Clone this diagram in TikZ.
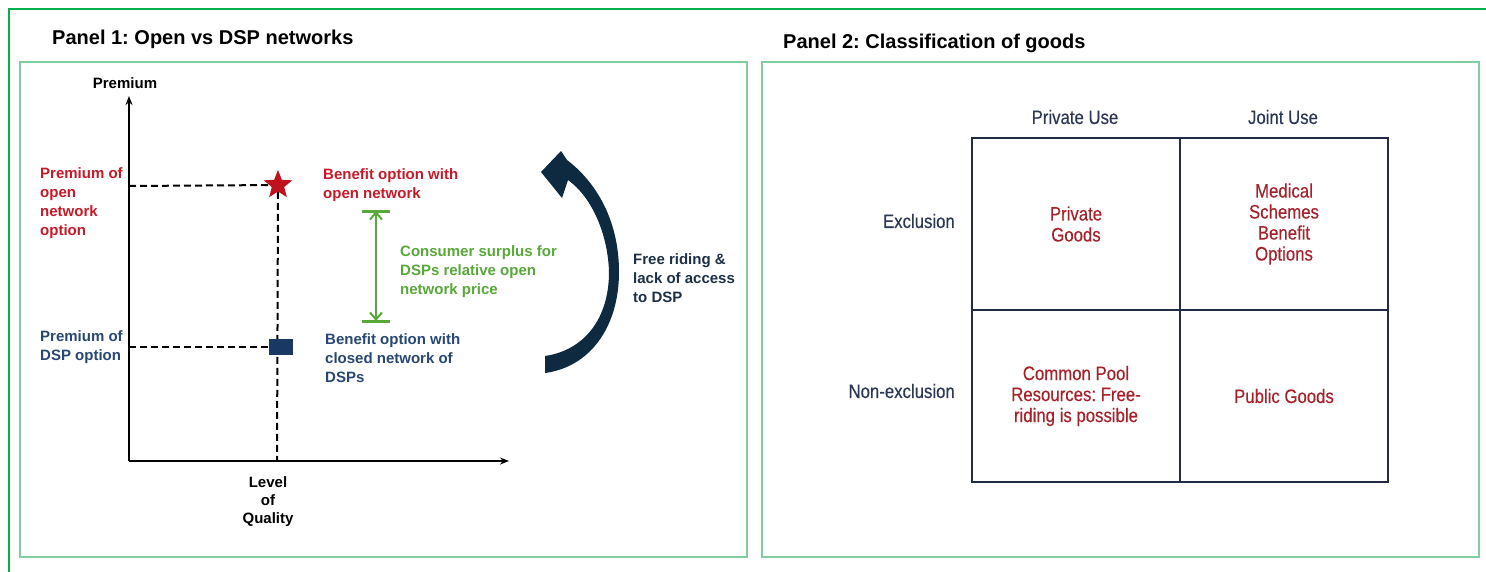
\documentclass[tikz,border=0pt]{standalone}
\usepackage{fontspec}
\setmainfont{Liberation Sans}
\newfontfamily\condfont[FakeStretch=0.86,FakeBold=0.3]{Liberation Sans}
\usetikzlibrary{arrows.meta,shapes.geometric}
\frenchspacing

\definecolor{framegreen}{RGB}{0,176,80}
\definecolor{panelgreen}{RGB}{128,206,160}
\definecolor{optred}{RGB}{200,25,40}
\definecolor{starred}{RGB}{190,18,30}
\definecolor{dspblue}{RGB}{40,72,115}
\definecolor{sqblue}{RGB}{26,56,100}
\definecolor{surplusgreen}{RGB}{88,168,58}
\definecolor{arrownavy}{RGB}{14,42,64}
\definecolor{slatetext}{RGB}{30,48,70}
\definecolor{headnavy}{RGB}{44,56,84}
\definecolor{cellred}{RGB}{165,34,43}
\definecolor{gridnavy}{RGB}{34,44,68}

\begin{document}
\begin{tikzpicture}[x=1pt,y=-1pt,
  panel/.style={draw=panelgreen,line width=1.6pt,fill=white},
  title/.style={font=\fontsize{20}{24}\selectfont\bfseries,anchor=base west,inner sep=0pt},
  % multi-line labels are placed by the baseline of their last line
  lbl/.style={font=\fontsize{15}{19}\selectfont\bfseries,align=left,anchor=base west,inner sep=0pt},
  axis/.style={line width=2pt,-{Stealth[length=9pt,width=7pt]}},
  guide/.style={line width=2pt,dash pattern=on 7pt off 4pt},
  gtext/.style={font=\condfont\fontsize{19.5}{21}\selectfont,inner sep=0pt},
  cell/.style={draw=gridnavy,line width=2pt,minimum width=208pt,minimum height=172pt,
    inner sep=0pt,align=center,text=cellred,font=\condfont\fontsize{19.5}{21}\selectfont}
]
\useasboundingbox (0,0) rectangle (1486,571);
\clip (0,0) rectangle (1486,571);
\fill[white] (0,0) rectangle (1486,571);

% outer frame, running off the page to the right and below
\draw[framegreen,line width=2pt] (9,9) rectangle (1520,600);

% ---------------- Panel 1 ----------------
\node[title] (t1) at (52,44) {Panel 1: Open vs DSP networks};
\draw[panel] (20,62) rectangle (747,557);

% axes
\coordinate (O) at (129,461);
\coordinate (ytop) at (129,96);
\coordinate (xend) at (509,461);
\draw[axis] (O) -- (ytop);
\draw[axis] (O) -- (xend);
\node[font=\fontsize{15}{19}\selectfont\bfseries,anchor=base,inner sep=0pt] (ylab) at (125,88) {Premium};
\node[font=\fontsize{15}{18}\selectfont\bfseries,align=center,anchor=base,inner sep=0pt] (xlab) at (268,523) {Level\\of\\Quality};

% option markers and guide lines
\node[star,star points=5,star point ratio=2.3,minimum size=30pt,inner sep=0pt,fill=starred] (open) at (278,185) {};
\coordinate (yopen) at (129,186);
\coordinate (ydsp) at (129,347);
\coordinate (xq) at (277,461);
\draw[guide] (yopen) -- (open);
\draw[guide] (open.south) -- (xq);
\node[rectangle,minimum width=24pt,minimum height=16pt,inner sep=0pt,fill=sqblue] (dsp) at (281,347) {};
\draw[guide] (ydsp) -- (dsp.west);

% labels
\node[lbl,text=optred] (popen) at (40,235) {Premium of\\open\\network\\option};
\node[lbl,text=dspblue] (pdsp) at (40,360) {Premium of\\DSP option};
\node[lbl,text=optred] (bopen) at (323,198) {Benefit option with\\open network};
\node[lbl,text=dspblue] (bdsp) at (325,382) {Benefit option with\\closed network of\\DSPs};
\node[lbl,text=surplusgreen] (cs) at (400,294) {Consumer surplus for\\DSPs relative open\\network price};
\node[lbl,text=slatetext] (free) at (633,302) {Free riding \&\\lack of access\\to DSP};

% consumer surplus span
\coordinate (csTop) at (376,211);
\coordinate (csBot) at (376,321);
\draw[surplusgreen,line width=3pt] (362,211) -- (390,211);
\draw[surplusgreen,line width=3pt] (362,321) -- (390,321);
\draw[surplusgreen,line width=2pt,{Straight Barb[length=7pt,width=12pt,line width=2pt]}-{Straight Barb[length=7pt,width=12pt,line width=2pt]}] (csTop) -- (csBot);

% curved arrow back towards the open network option: tapered body plus head
\fill[arrownavy]
  (545,373) .. controls (590,367) and (619,327) .. (619,272)
  .. controls (619,220) and (596,182) .. (567,160)
  -- (561,151) -- (541,172) -- (562,198) -- (568,180)
  .. controls (593,198) and (608,236) .. (609,272)
  .. controls (609,318) and (585,350) .. (545,356) -- cycle;

% ---------------- Panel 2 ----------------
\node[title] (t2) at (783,48) {Panel 2: Classification of goods};
\draw[panel] (762,62) rectangle (1479,557);

\node[gtext,text=headnavy] (hpriv) at (1075,117) {Private Use};
\node[gtext,text=headnavy] (hjoint) at (1283,117) {Joint Use};
\node[gtext,text=headnavy,anchor=east] (rexcl) at (955,221) {Exclusion};
\node[gtext,text=headnavy,anchor=east] (rnon) at (955,391) {Non-exclusion};

\node[cell] (c11) at (1076,224) {Private\\Goods};
\node[cell] (c12) at (1284,224) {Medical\\Schemes\\Benefit\\Options};
\node[cell] (c21) at (1076,396) {Common Pool\\Resources: Free-\\riding is possible};
\node[cell] (c22) at (1284,396) {Public Goods};
\end{tikzpicture}
\end{document}
